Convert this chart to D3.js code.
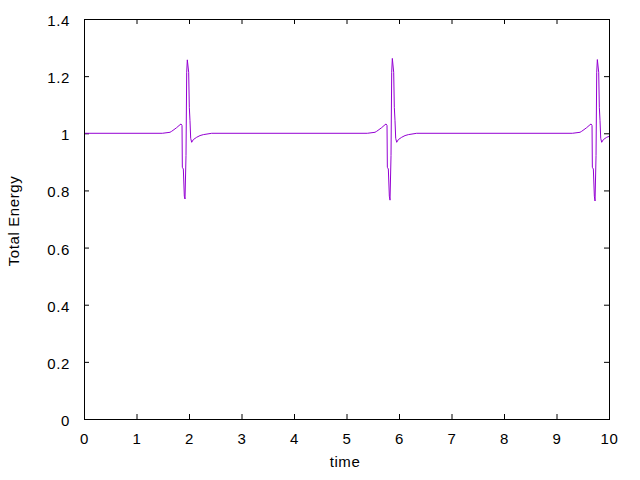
<!DOCTYPE html>
<html><head><meta charset="utf-8">
<script src="https://cdn.jsdelivr.net/npm/d3@7"></script>
<style>body{margin:0;background:#fff}text{font-family:"Liberation Sans",Arial,sans-serif;font-size:15px;letter-spacing:0.6px;fill:#000}</style>
</head><body><svg id="c" width="640" height="480"></svg>
<script>
const xTicks = [0,1,2,3,4,5,6,7,8,9,10];
const yTicks = [0,0.2,0.4,0.6,0.8,1,1.2,1.4];
const yTickLabels = ["0","0.2","0.4","0.6","0.8","1","1.2","1.4"];
const time = [0,1.492,1.638,1.670,1.714,1.765,1.810,1.848,1.867,1.873,1.892,1.911,1.924,1.943,1.956,1.968,1.994,2.006,2.019,2.032,2.051,2.083,2.146,2.210,2.273,2.432,
  5.397,5.543,5.575,5.619,5.670,5.715,5.753,5.772,5.778,5.797,5.816,5.829,5.848,5.861,5.873,5.899,5.911,5.924,5.937,5.956,5.988,6.051,6.115,6.178,6.337,
  9.302,9.448,9.480,9.524,9.575,9.620,9.658,9.677,9.683,9.702,9.721,9.734,9.753,9.766,9.778,9.804,9.816,9.829,9.842,9.861,9.893,9.956,10.0];
const energy = [1,1,1.0035,1.007,1.0128,1.0198,1.027,1.0327,1.027,0.881,0.875,0.78,0.77,0.922,1.2135,1.257,1.2135,1.091,1.044,0.9825,0.9685,0.978,0.986,0.992,0.9953,1,
  1,1.0035,1.007,1.0128,1.0198,1.027,1.0327,1.027,0.881,0.875,0.78,0.766,0.922,1.2135,1.262,1.2135,1.091,1.044,0.9825,0.9685,0.978,0.986,0.992,0.9953,1,
  1,1.0035,1.007,1.0128,1.0198,1.027,1.0327,1.027,0.881,0.875,0.78,0.763,0.922,1.2135,1.258,1.2135,1.091,1.044,0.9825,0.9685,0.978,0.986,0.989];

const svg = d3.select("#c");
const L=84,R=609,T=19,B=419;
const x = d3.scaleLinear().domain([0,10]).range([L,R]);
const y = d3.scaleLinear().domain([0,1.4]).range([B,T]);
const tl=5;
const g = svg.append("g");
xTicks.forEach(v=>{
  g.append("line").attr("x1",x(v)+0.5).attr("x2",x(v)+0.5).attr("y1",B).attr("y2",B-tl).attr("stroke","#000");
  g.append("line").attr("x1",x(v)+0.5).attr("x2",x(v)+0.5).attr("y1",T).attr("y2",T+tl).attr("stroke","#000");
  g.append("text").attr("x",x(v)+0.5).attr("y",444).attr("text-anchor","middle").text(v);
});
yTicks.forEach((v,i)=>{
  g.append("line").attr("x1",L).attr("x2",L+tl).attr("y1",y(v)+0.5).attr("y2",y(v)+0.5).attr("stroke","#000");
  g.append("line").attr("x1",R).attr("x2",R-tl).attr("y1",y(v)+0.5).attr("y2",y(v)+0.5).attr("stroke","#000");
  g.append("text").attr("x",70).attr("y",y(v)+7).attr("text-anchor","end").text(yTickLabels[i]);
});
svg.append("defs").append("clipPath").attr("id","cp").append("rect").attr("x",L).attr("y",T).attr("width",R-L).attr("height",B-T);
const pts = time.map((t,i)=>[t,energy[i]]);
svg.append("path").datum(pts).attr("clip-path","url(#cp)")
  .attr("d",d3.line().x(d=>x(d[0])).y(d=>y(d[1])))
  .attr("fill","none").attr("stroke","#9400d3").attr("stroke-width",1);
svg.append("rect").attr("x",L+0.5).attr("y",T+0.5).attr("width",R-L).attr("height",B-T).attr("fill","none").attr("stroke","#000");
svg.append("text").attr("x",345).attr("y",467).attr("text-anchor","middle").text("time");
svg.append("text").attr("transform","translate(18.5,221) rotate(-90)").attr("text-anchor","middle").text("Total Energy");
</script></body></html>
